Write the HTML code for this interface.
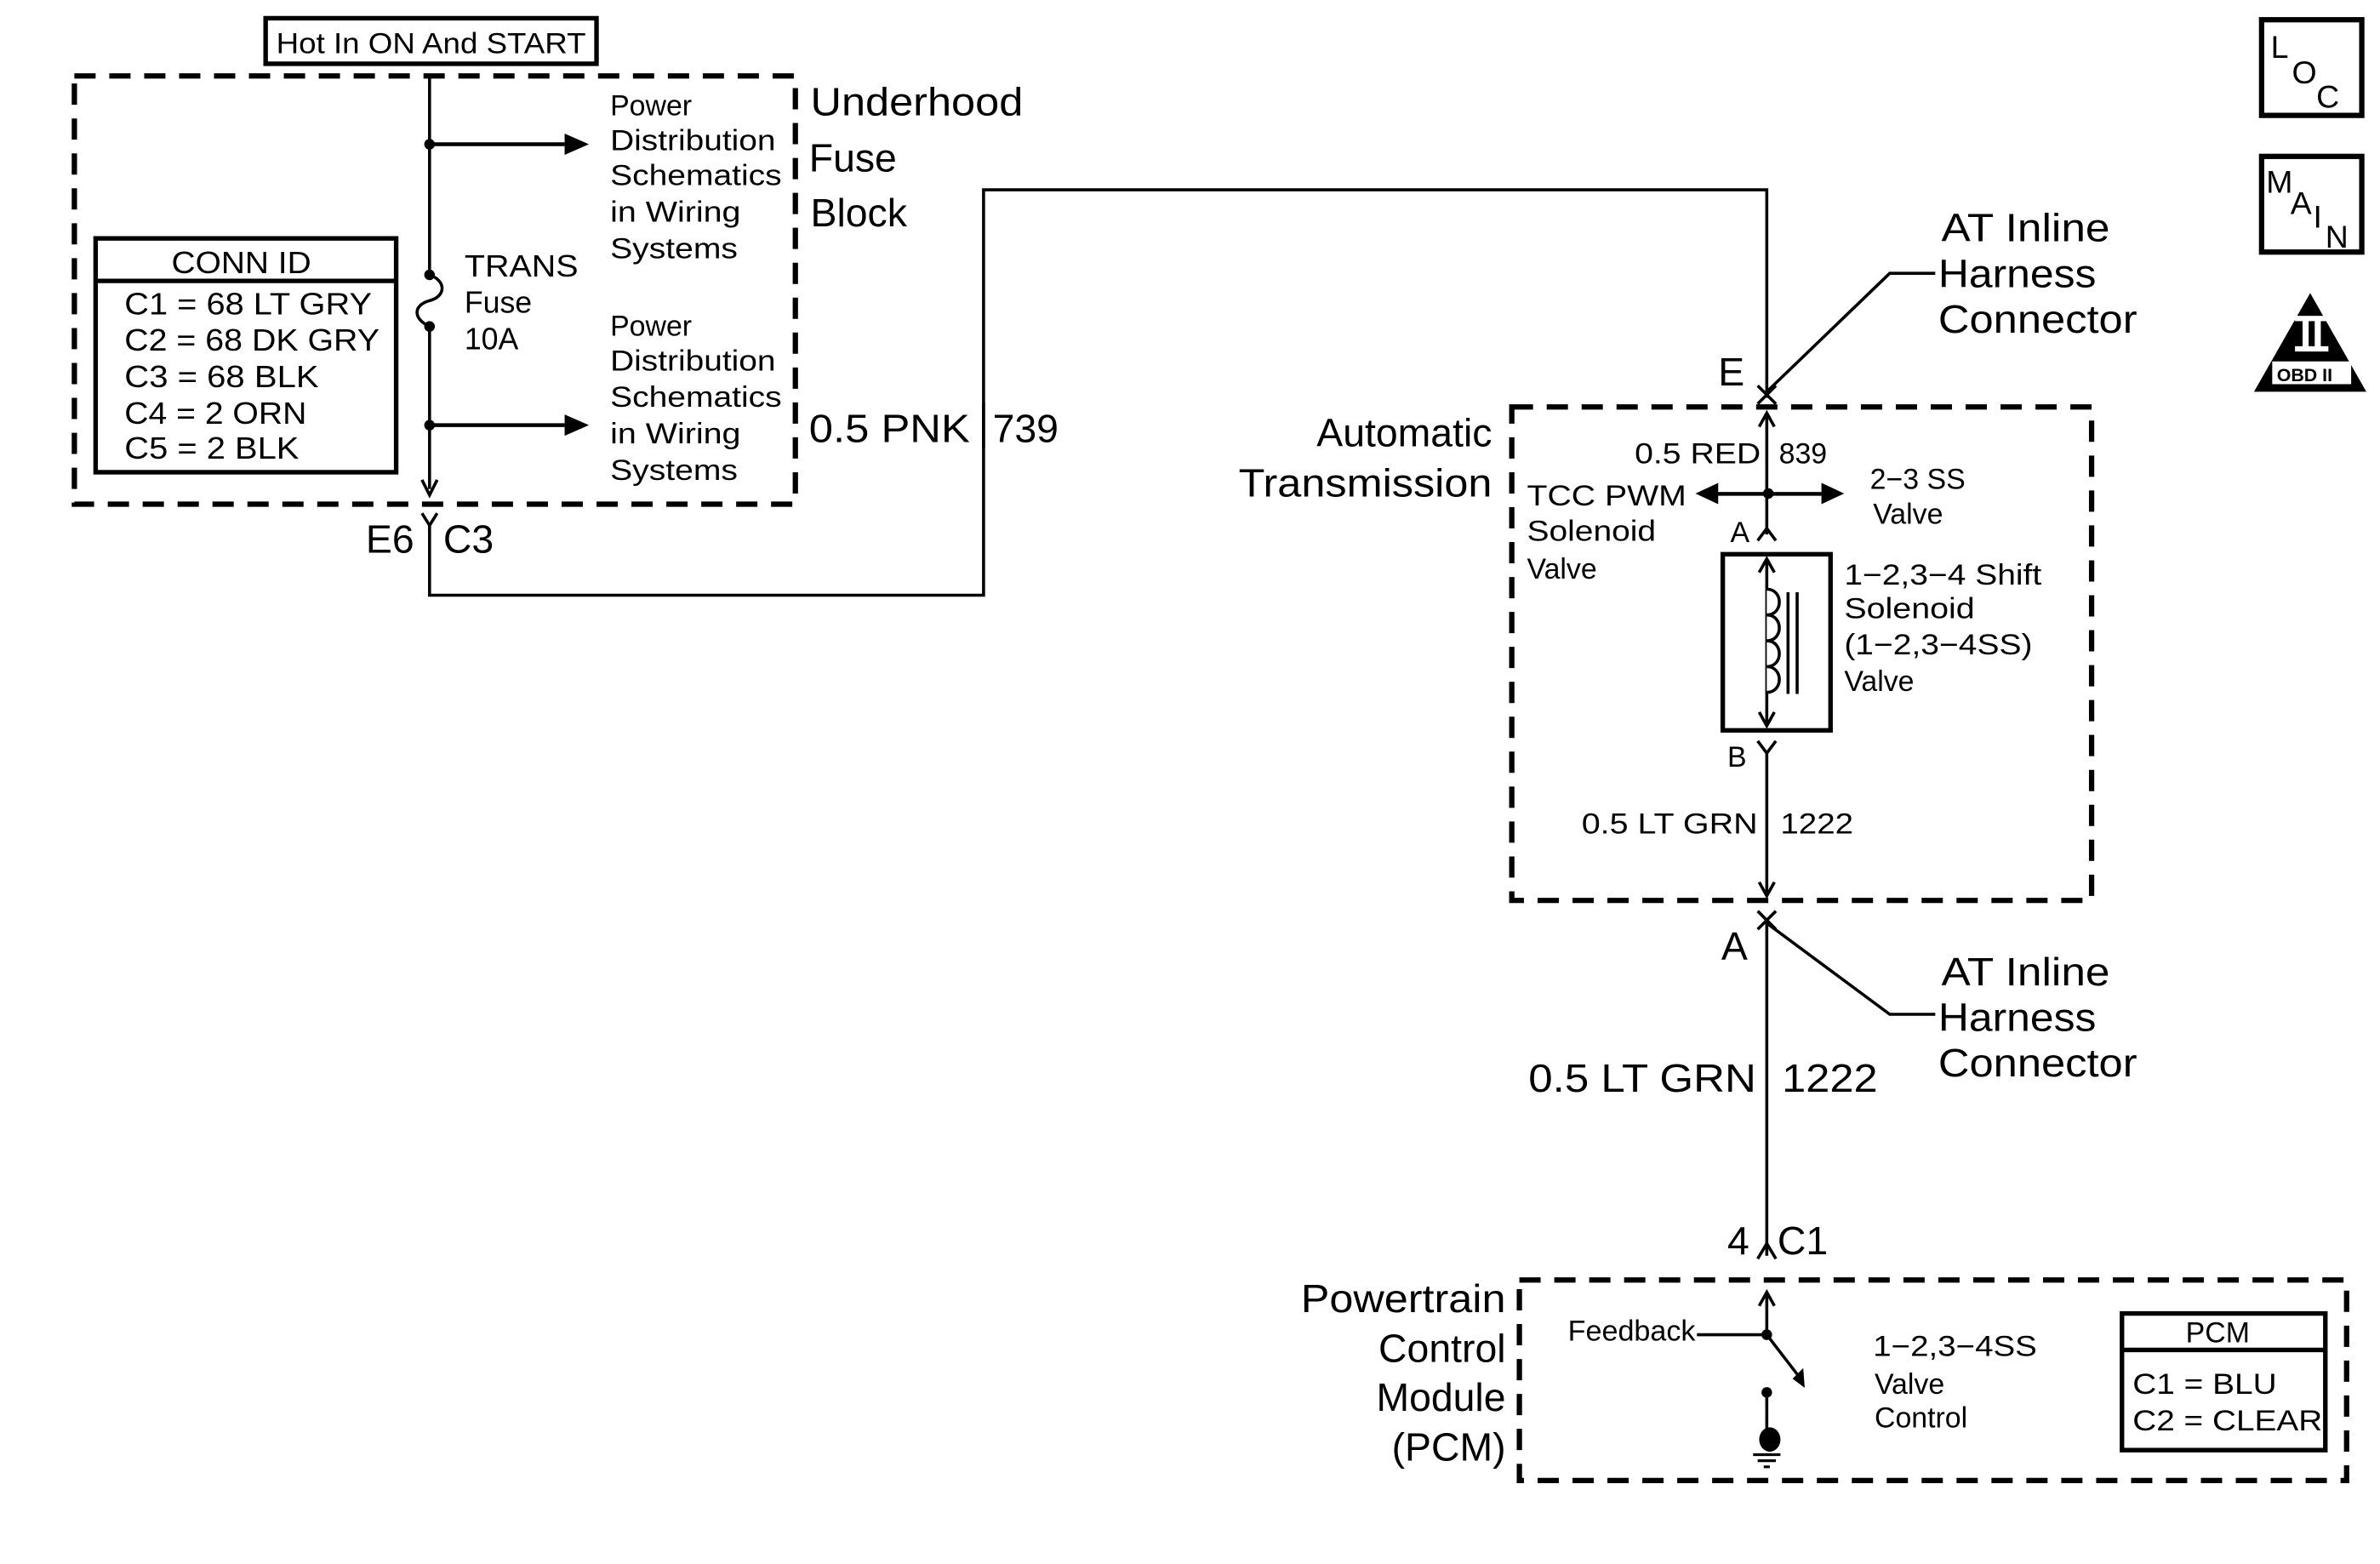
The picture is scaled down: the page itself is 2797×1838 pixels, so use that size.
<!DOCTYPE html>
<html><head><meta charset="utf-8"><style>
html,body{margin:0;padding:0;background:#fff;}
svg{display:block;}
text{font-family:"Liberation Sans",Arial,sans-serif;fill:#000;}
</style></head><body>
<svg width="2797" height="1838" viewBox="0 0 1568 1030" preserveAspectRatio="none" xmlns="http://www.w3.org/2000/svg">
<rect width="1568" height="1030" fill="#fff"/>
<g fill="none" stroke="#000">
<rect x="49" y="50" width="475" height="282" stroke-width="3.5" stroke-dasharray="14,9"/>
<rect x="996" y="268" width="382" height="325" stroke-width="3.5" stroke-dasharray="14,9"/>
<rect x="1001" y="843" width="545" height="132" stroke-width="3.5" stroke-dasharray="14,9"/>
<rect x="175" y="12" width="218" height="30" stroke-width="3"/>
<rect x="63" y="157" width="198" height="154" stroke-width="3"/>
<line x1="63" y1="185" x2="261" y2="185" stroke-width="3"/>
<path d="M283,50 V180 M283,216 V322" stroke-width="2"/>
<path d="M283,181 C294,185 294,195 283,198 C272,201 272,210 283,215" stroke-width="2"/>
<path d="M278,316 L283,326 L288,316" stroke-width="2"/>
<line x1="283" y1="95" x2="372" y2="95" stroke-width="2.5"/>
<line x1="283" y1="280" x2="372" y2="280" stroke-width="2.5"/>
<path d="M278,338 L283,346 L288,338 M283,346 V392 H648 V125 H1164 V262" stroke-width="2"/>
<line x1="648" y1="265" x2="648" y2="295" stroke-width="2"/>
<path d="M1158,254 L1170,266 M1170,254 L1158,266" stroke-width="2"/>
<path d="M1164,258 L1245,180 H1275" stroke-width="2"/>
<path d="M1164,274 V352" stroke-width="2"/>
<path d="M1159,281 L1164,272 L1169,281" stroke-width="2"/>
<path d="M1158,356 L1164,348 L1170,356" stroke-width="2"/>
<rect x="1135" y="365" width="71" height="116" stroke-width="3"/>
<path d="M1164,368 V478 M1159,377 L1164,368 L1169,377 M1159,469 L1164,478 L1169,469" stroke-width="2"/>
<path d="M1164,388 C1175,388 1175,405 1164,405 C1175,405 1175,422 1164,422 C1175,422 1175,439 1164,439 C1175,439 1175,456 1164,456" stroke-width="2" fill="#fff"/>
<path d="M1178,390 V457 M1184,390 V457" stroke-width="2"/>
<path d="M1158,488 L1164,496 L1170,488 M1164,496 V590 M1159,581 L1164,590 L1169,581" stroke-width="2"/>
<path d="M1158,600 L1170,612 M1170,600 L1158,612 M1164,607 V827" stroke-width="2"/>
<path d="M1164,608 L1245,668 H1275" stroke-width="2"/>
<path d="M1158,829 L1164,819 L1170,829" stroke-width="2"/>
<path d="M1164,852 V879 M1159,860 L1164,851 L1169,860" stroke-width="2"/>
<line x1="1118" y1="879" x2="1164" y2="879" stroke-width="2"/>
<line x1="1164" y1="879" x2="1184" y2="905" stroke-width="2"/>
<path d="M1164,917 V948" stroke-width="2"/>
<path d="M1155,958 H1173 M1158,962 H1170 M1162,966 H1166" stroke-width="1.8"/>
<rect x="1398" y="865" width="134" height="90" stroke-width="3"/>
<line x1="1398" y1="889" x2="1532" y2="889" stroke-width="3"/>
<rect x="1490" y="13" width="66" height="63" stroke-width="3.5"/>
<rect x="1490" y="103" width="66" height="63" stroke-width="3.5"/>
</g>
<g fill="#000" stroke="none">
<path d="M372,88 L388,95 L372,102z"/>
<path d="M372,273 L388,280 L372,287z"/>
<circle cx="283" cy="95" r="3.5"/><circle cx="283" cy="280" r="3.5"/>
<circle cx="283" cy="181" r="3.5"/><circle cx="283" cy="215" r="3.5"/>
<circle cx="1165" cy="325" r="3.5"/>
<path d="M1132,318 L1117,325 L1132,332z"/>
<path d="M1200,318 L1215,325 L1200,332z"/>
<rect x="1130" y="324" width="70" height="2.5"/>
<circle cx="1164" cy="879" r="3.5"/>
<path d="M1181,908 L1189,914 L1188,901z"/>
<circle cx="1164" cy="917" r="3.5"/>
<ellipse cx="1166" cy="948" rx="7" ry="8"/>
<path d="M1522,193 L1559,258 L1485,258z"/>
<rect x="1512" y="208" width="22" height="3.5" fill="#fff"/>
<rect x="1512" y="228" width="22" height="3.5" fill="#fff"/>
<rect x="1517" y="210" width="4" height="19" fill="#fff"/>
<rect x="1525" y="210" width="4" height="19" fill="#fff"/>
<rect x="1497" y="238" width="52" height="15" fill="#fff"/>
</g>
<g font-size="20">
<text x="182" y="35" font-size="19" textLength="204" lengthAdjust="spacingAndGlyphs">Hot In ON And START</text>
<text x="113" y="180" textLength="92" lengthAdjust="spacingAndGlyphs">CONN ID</text>
<text x="82" y="207" textLength="163" lengthAdjust="spacingAndGlyphs">C1 = 68 LT GRY</text>
<text x="82" y="231" textLength="168" lengthAdjust="spacingAndGlyphs">C2 = 68 DK GRY</text>
<text x="82" y="255" textLength="128" lengthAdjust="spacingAndGlyphs">C3 = 68 BLK</text>
<text x="82" y="279" textLength="120" lengthAdjust="spacingAndGlyphs">C4 = 2 ORN</text>
<text x="82" y="302" textLength="115" lengthAdjust="spacingAndGlyphs">C5 = 2 BLK</text>
<text x="306" y="182" textLength="75" lengthAdjust="spacingAndGlyphs">TRANS</text>
<text x="306" y="206">Fuse</text>
<text x="306" y="230">10A</text>
<g font-size="19">
<text x="402" y="76">Power</text>
<text x="402" y="99" textLength="109" lengthAdjust="spacingAndGlyphs">Distribution</text>
<text x="402" y="122" textLength="113" lengthAdjust="spacingAndGlyphs">Schematics</text>
<text x="402" y="146" textLength="86" lengthAdjust="spacingAndGlyphs">in Wiring</text>
<text x="402" y="170" textLength="84" lengthAdjust="spacingAndGlyphs">Systems</text>
<text x="402" y="221">Power</text>
<text x="402" y="244" textLength="109" lengthAdjust="spacingAndGlyphs">Distribution</text>
<text x="402" y="268" textLength="113" lengthAdjust="spacingAndGlyphs">Schematics</text>
<text x="402" y="292" textLength="86" lengthAdjust="spacingAndGlyphs">in Wiring</text>
<text x="402" y="316" textLength="84" lengthAdjust="spacingAndGlyphs">Systems</text>
</g>
<g font-size="26">
<text x="534" y="76" textLength="140" lengthAdjust="spacingAndGlyphs">Underhood</text>
<text x="533" y="113">Fuse</text>
<text x="534" y="149">Block</text>
<text x="241" y="364">E6</text>
<text x="292" y="364">C3</text>
<text x="533" y="291" textLength="106" lengthAdjust="spacingAndGlyphs">0.5 PNK</text>
<text x="654" y="291">739</text>
<text x="1132" y="254">E</text>
<text x="1279" y="159" textLength="111" lengthAdjust="spacingAndGlyphs">AT Inline</text>
<text x="1277" y="189" textLength="104" lengthAdjust="spacingAndGlyphs">Harness</text>
<text x="1277" y="219" textLength="131" lengthAdjust="spacingAndGlyphs">Connector</text>
<text x="983" y="294" text-anchor="end">Automatic</text>
<text x="983" y="327" text-anchor="end" textLength="167" lengthAdjust="spacingAndGlyphs">Transmission</text>
<text x="1134" y="632">A</text>
<text x="1279" y="649" textLength="111" lengthAdjust="spacingAndGlyphs">AT Inline</text>
<text x="1277" y="679" textLength="104" lengthAdjust="spacingAndGlyphs">Harness</text>
<text x="1277" y="709" textLength="131" lengthAdjust="spacingAndGlyphs">Connector</text>
<text x="1007" y="719" textLength="150" lengthAdjust="spacingAndGlyphs">0.5 LT GRN</text>
<text x="1174" y="719" textLength="63" lengthAdjust="spacingAndGlyphs">1222</text>
<text x="1138" y="826">4</text>
<text x="1171" y="826">C1</text>
<text x="992" y="864" text-anchor="end" textLength="135" lengthAdjust="spacingAndGlyphs">Powertrain</text>
<text x="992" y="897" text-anchor="end">Control</text>
<text x="992" y="929" text-anchor="end">Module</text>
<text x="992" y="962" text-anchor="end">(PCM)</text>
</g>
<g font-size="19">
<text x="1160" y="305" text-anchor="end" textLength="83" lengthAdjust="spacingAndGlyphs">0.5 RED</text>
<text x="1172" y="305">839</text>
<text x="1006" y="333" textLength="105" lengthAdjust="spacingAndGlyphs">TCC PWM</text>
<text x="1006" y="356" textLength="85" lengthAdjust="spacingAndGlyphs">Solenoid</text>
<text x="1006" y="381">Valve</text>
<text x="1232" y="322">2−3 SS</text>
<text x="1234" y="345">Valve</text>
<text x="1140" y="357">A</text>
<text x="1215" y="385" textLength="130" lengthAdjust="spacingAndGlyphs">1−2,3−4 Shift</text>
<text x="1215" y="407" textLength="86" lengthAdjust="spacingAndGlyphs">Solenoid</text>
<text x="1215" y="431" textLength="124" lengthAdjust="spacingAndGlyphs">(1−2,3−4SS)</text>
<text x="1215" y="455">Valve</text>
<text x="1138" y="505">B</text>
<text x="1158" y="549" text-anchor="end" textLength="116" lengthAdjust="spacingAndGlyphs">0.5 LT GRN</text>
<text x="1173" y="549" textLength="48" lengthAdjust="spacingAndGlyphs">1222</text>
<text x="1033" y="883" textLength="84" lengthAdjust="spacingAndGlyphs">Feedback</text>
<text x="1234" y="893" textLength="108" lengthAdjust="spacingAndGlyphs">1−2,3−4SS</text>
<text x="1235" y="918">Valve</text>
<text x="1235" y="940">Control</text>
<text x="1440" y="884">PCM</text>
<text x="1405" y="918" textLength="95" lengthAdjust="spacingAndGlyphs">C1 = BLU</text>
<text x="1405" y="942" textLength="125" lengthAdjust="spacingAndGlyphs">C2 = CLEAR</text>
</g>
<g font-size="21">
<text x="1496" y="38">L</text><text x="1510" y="55">O</text><text x="1526" y="71">C</text>
<text x="1493" y="127">M</text><text x="1509" y="141">A</text><text x="1524" y="150">I</text><text x="1532" y="163">N</text>
</g>
<text x="1500" y="251" font-size="12" font-weight="bold">OBD II</text>
</g>
</svg>
</body></html>
